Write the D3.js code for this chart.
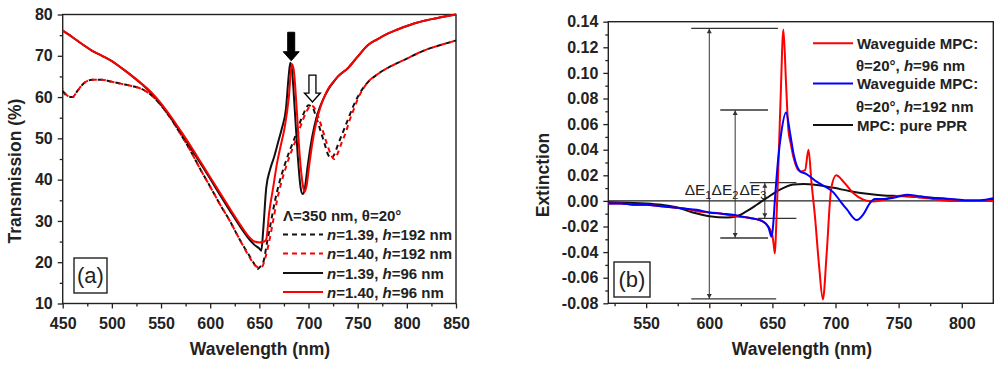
<!DOCTYPE html>
<html><head><meta charset="utf-8">
<script src="https://cdn.jsdelivr.net/npm/d3@7"></script>
<style>
body{margin:0;background:#fff;}
text{font-family:"Liberation Sans",Arial,sans-serif;}
</style></head>
<body><svg id="c" width="1000" height="367"></svg>
<script>
// ---------- Panel (a): transmission ----------
const aSolidBlackX = [450,460,470,480,490,500,510,520,530,540,550,560,570,580,590,600,610,620,630,640,645,650,652,654,657,661,665,669,673,677,680,681.5,683,686,689,692,694,696,699,702,706,710,715,720,725,730,740,750,760,770,780,790,800,810,820,830,840,850];
const aSolidBlackY = [76.1,74.5,72.8,71.2,70,68.7,67,65.2,63.2,61,58.2,55,51.5,47.8,44,40.2,36.3,32.5,28.8,25.5,24.2,23.3,22.8,28,38,42.5,45.5,49,52.5,57,65.5,68.3,67,57,46,38,36.5,37.5,43,48,53,56.5,59.5,61.8,63.5,65,67,69.8,72.5,74,75.3,76.3,77.2,78,78.6,79.1,79.6,80];
const aSolidRedX = [450,460,470,480,490,500,510,520,530,540,550,560,570,580,590,600,610,620,630,640,645,650,655,657,660,664,668,672,676,680,683,685,688,691,694,696,698,701,704,708,712,716,720,725,730,740,750,760,770,780,790,800,810,820,830,840,850];
const aSolidRedY = [76.1,74.5,72.8,71.2,70,68.7,67,65.2,63.3,61.2,58.5,55.3,51.8,48.2,44.4,40.6,36.8,33,29.3,26,25,24.8,25,25.5,32,38,44,48.5,53,60,68,66.5,57,46,39,37,38.5,44,49,54,57.5,60,62,63.6,65,67,69.8,72.5,74,75.3,76.3,77.2,78,78.6,79.1,79.6,80];
const aDashBlackX = [450,455,460,465,470,480,490,500,510,520,530,540,550,560,570,580,590,600,610,620,630,640,645,648,650,654,658,662,666,670,675,680,685,690,695,700,704,708,712,716,720,723,726,730,735,740,745,750,755,760,770,780,790,800,810,820,830,840,850];
const aDashBlackY = [61.5,60.2,60,61.5,63,64.2,64.2,63.7,63.2,62.7,62,60.5,58,54.8,51,47,42.5,38.3,34,30,25.5,21.5,19.5,18.3,18.7,20,25,30,35,39,43,46.5,49.5,53,56,58,57.5,55,52,49,46,45.2,46,48.5,51.5,54.5,57.5,60,62,63.5,65.5,67,68.2,69.3,70.5,71.5,72.3,73,73.7];
const aDashRedX = [450,455,460,465,470,480,490,500,510,520,530,540,550,560,570,580,590,600,610,620,630,640,645,650,653,656,660,664,668,672,677,682,687,692,697,703,707,711,715,719,723,726,729,733,738,742,746,750,755,760,770,780,790,800,810,820,830,840,850];
const aDashRedY = [62,60.3,60,61.5,63,64.2,64.2,63.7,63.2,62.7,62,60.5,58,54.8,51,47,42.5,38.3,34,30,25.5,21.2,19.4,18.7,19,21,25,30,35,39,43,46.5,49.5,53,56,58,57,54.5,51.5,48.5,46,45,46,48.5,51.5,54.5,57,59.5,61.8,63.5,65.5,67,68.2,69.3,70.5,71.5,72.3,73,73.7];
const aXTicks = [450,500,550,600,650,700,750,800,850];
const aYTicks = [10,20,30,40,50,60,70,80];
const aLegend = ["n=1.39, h=192 nm","n=1.40, h=192 nm","n=1.39, h=96 nm","n=1.40, h=96 nm"];
const aLegendTitle = "Λ=350 nm, θ=20°";
const aArrowFilled = {x:682.4, top:75.7, tip:68.8};
const aArrowHollow = {x:704, top:65.3, tip:58.8};

// ---------- Panel (b): extinction ----------
const bRedX = [520,530,540,550,560,570,580,590,600,610,620,630,640,645,648,650,651,652,653,654.5,656.5,658.7,660.8,662.7,664.5,666.7,672,675.9,678.6,681,683.7,687,690,693,696.5,700.5,706.3,714.2,722,730,738,745,751,757,764,777,790,804,815,825];
const bRedY = [-0.002,-0.002,-0.003,-0.003,-0.004,-0.005,-0.006,-0.008,-0.009,-0.010,-0.012,-0.013,-0.015,-0.018,-0.022,-0.027,-0.034,-0.041,-0.02,0.02,0.08,0.134,0.092,0.055,0.045,0.034,0.023,0.024,0.040,0.014,-0.012,-0.051,-0.077,-0.041,0.009,0.020,0.015,0.006,0.001,-0.0005,0.0008,0.003,0.004,0.004,0.003,0.0015,0.000,0.000,0.000,0.000];
const bBlueX = [520,530,540,550,560,570,580,590,600,610,620,630,640,645,647,649.4,650.5,652,654.5,657,660.8,664,666.7,672,677,685,693,698.5,703.6,708.9,716.8,722,727.4,731,738,751,756.6,767,777,791,804,814.6,825];
const bBlueY = [-0.002,-0.002,-0.003,-0.003,-0.004,-0.005,-0.006,-0.007,-0.009,-0.010,-0.011,-0.013,-0.015,-0.018,-0.021,-0.028,-0.02,0.001,0.032,0.053,0.069,0.053,0.037,0.023,0.021,0.015,0.0105,0.0065,0.0,-0.0065,-0.015,-0.0105,-0.0015,0.0015,0.0015,0.0036,0.0049,0.0036,0.0023,0.0015,0.0005,0.0005,0.002];
const bBlackX = [520,535,550,562,574,587,600,614,621.7,629.7,637.6,645.5,656,666.7,674.6,685,698.5,711.7,725,738,751,764,777,791,804,815,825];
const bBlackY = [-0.001,-0.0015,-0.002,-0.003,-0.005,-0.009,-0.012,-0.013,-0.012,-0.008,-0.003,0.0023,0.0088,0.0128,0.0133,0.0125,0.0102,0.0076,0.0056,0.0043,0.0038,0.003,0.0025,0.0013,0.0,0.0,0.0013];
const bXTicks = [550,600,650,700,750,800];
const bYTicks = [-0.08,-0.06,-0.04,-0.02,0,0.02,0.04,0.06,0.08,0.10,0.12,0.14];
const bLegend = [["Waveguide MPC:","θ=20°, ","h","=96 nm"],["Waveguide MPC:","θ=20°, ","h","=192 nm"],["MPC: pure PPR"]];
// ΔE brackets: x position, top, bottom, cap extents (data units)
const bDeltaX   = [600, 620.5, 644];
const bDeltaTop = [0.1348, 0.071, 0.0142];
const bDeltaBot = [-0.0766, -0.029, -0.0136];
const bCapTop   = [[585.7,654.4],[608.7,646.5],[632,669]];
const bCapBot   = [[585.7,653],[608.7,646.5],[638.6,669]];
const bDeltaLabelX = [580.5, 601.8, 624];
const bDeltaLabelY = 0.0046;

const svg = d3.select("#c");
const AX = "#222";

function frame(g, x, y, xMaj, xMin, yMaj, yMin, xFmt, yFmt){
  const [x0,x1] = x.range(), [y1,y0] = y.range();
  g.append("g").attr("transform",`translate(0,${y1})`)
    .call(d3.axisBottom(x).tickValues(xMin).tickSize(3).tickFormat(""));
  g.append("g").attr("transform",`translate(${x0},0)`)
    .call(d3.axisLeft(y).tickValues(yMin).tickSize(3).tickFormat(""));
  g.append("g").attr("transform",`translate(0,${y1})`)
    .call(d3.axisBottom(x).tickValues(xMaj).tickSize(5).tickPadding(9).tickFormat(xFmt));
  g.append("g").attr("transform",`translate(${x0},0)`)
    .call(d3.axisLeft(y).tickValues(yMaj).tickSize(5).tickPadding(5).tickFormat(yFmt));
  g.selectAll(".domain").remove();
  g.selectAll(".tick line").attr("stroke",AX).attr("stroke-width",1.3);
  g.selectAll(".tick text").attr("font-size",16).attr("font-weight","bold").attr("fill","#222")
    .attr("font-family","'Liberation Sans',Arial,sans-serif");
  g.append("rect").attr("x",x0).attr("y",y0).attr("width",x1-x0).attr("height",y1-y0)
    .attr("fill","none").attr("stroke",AX).attr("stroke-width",1.4);
}

function range(a,b,s){const r=[];for(let v=a;v<=b+1e-9;v+=s)r.push(+v.toFixed(4));return r;}

// ======== Panel A ========
const gA = svg.append("g");
const xA = d3.scaleLinear().domain([450,850]).range([62.7,456]);
const yA = d3.scaleLinear().domain([10,80]).range([303.5,14.5]);
frame(gA, xA, yA, aXTicks, range(475,825,50), aYTicks, range(15,75,10), d3.format("d"), d3.format("d"));

const lineA = (X,Y)=>d3.line().x((d,i)=>xA(X[i])).y((d,i)=>yA(Y[i])).curve(d3.curveMonotoneX)(X);
gA.append("path").attr("d",lineA(aDashBlackX,aDashBlackY)).attr("fill","none").attr("stroke","#111").attr("stroke-width",2).attr("stroke-dasharray","5,4");
gA.append("path").attr("d",lineA(aDashRedX,aDashRedY)).attr("fill","none").attr("stroke","#f00").attr("stroke-width",2).attr("stroke-dasharray","5,4").attr("stroke-dashoffset",4.5);
gA.append("path").attr("d",lineA(aSolidBlackX,aSolidBlackY)).attr("fill","none").attr("stroke","#111").attr("stroke-width",2);
gA.append("path").attr("d",lineA(aSolidRedX,aSolidRedY)).attr("fill","none").attr("stroke","#f00").attr("stroke-width",2);

function arrow(g, a, filled){
  const cx = xA(a.x), t = yA(a.top), p = yA(a.tip);
  const hh = 9, sw = 3.5, hw = 8;
  const pts = [[cx-sw,t],[cx+sw,t],[cx+sw,p-hh],[cx+hw,p-hh],[cx,p],[cx-hw,p-hh],[cx-sw,p-hh]];
  g.append("path").attr("d","M"+pts.map(q=>q.join(",")).join("L")+"Z")
    .attr("fill",filled?"#000":"#fff").attr("stroke","#000").attr("stroke-width",filled?1:1.3);
}
arrow(gA,aArrowFilled,true);
arrow(gA,aArrowHollow,false);

// legend A
const legA = gA.append("g");
legA.append("text").attr("x",283).attr("y",221).attr("font-size",15).attr("font-weight","bold").attr("fill","#222").text(aLegendTitle);
const legStyles = [["#111","5,4"],["#f00","5,4"],["#111",null],["#f00",null]];
const legYs = [234.5,253.5,273,292];
aLegend.forEach((s,i)=>{
  const ln = legA.append("line").attr("x1",283).attr("x2",323).attr("y1",legYs[i]).attr("y2",legYs[i])
    .attr("stroke",legStyles[i][0]).attr("stroke-width",2);
  if(legStyles[i][1]) ln.attr("stroke-dasharray",legStyles[i][1]);
  const t = legA.append("text").attr("x",327).attr("y",legYs[i]+5.5).attr("font-size",15).attr("font-weight","bold").attr("fill","#222");
  const m = s.match(/^n(=[^,]+, )h(.*)$/);
  t.append("tspan").attr("font-style","italic").text("n");
  t.append("tspan").text(m[1]);
  t.append("tspan").attr("font-style","italic").text("h");
  t.append("tspan").text(m[2]);
});
gA.append("rect").attr("x",74).attr("y",258).attr("width",33).attr("height",35).attr("fill","#fff").attr("stroke","#222").attr("stroke-width",1.4);
gA.append("text").attr("x",90.5).attr("y",283).attr("text-anchor","middle").attr("font-size",22).attr("fill","#222").text("(a)");
gA.append("text").attr("x",260).attr("y",355).attr("text-anchor","middle").attr("font-size",17.5).attr("font-weight","bold").attr("fill","#222").text("Wavelength (nm)");
gA.append("text").attr("transform","translate(21,171) rotate(-90)").attr("text-anchor","middle").attr("font-size",17.5).attr("font-weight","bold").attr("fill","#222").text("Transmission (%)");

// ======== Panel B ========
const gB = svg.append("g");
const xB = d3.scaleLinear().domain([520,825]).range([608.3,993.3]);
const yB = d3.scaleLinear().domain([-0.08,0.14]).range([303.3,21.7]);
frame(gB, xB, yB, bXTicks, range(525,775,50), bYTicks, range(-0.07,0.13,0.02), d3.format("d"), d3.format(".2f"));
gB.selectAll(".tick text").text(function(){return this.textContent.replace("−","-");});

gB.append("line").attr("x1",xB(520)).attr("x2",xB(825)).attr("y1",yB(0)).attr("y2",yB(0)).attr("stroke","#222").attr("stroke-width",1.2);

const ann = gB.append("g").attr("stroke","#333").attr("stroke-width",1);
bDeltaX.forEach((dx,i)=>{
  const x = xB(dx), t = yB(bDeltaTop[i]), b = yB(bDeltaBot[i]);
  ann.append("line").attr("x1",xB(bCapTop[i][0])).attr("x2",xB(bCapTop[i][1])).attr("y1",t).attr("y2",t).attr("stroke-width",1.3);
  ann.append("line").attr("x1",xB(bCapBot[i][0])).attr("x2",xB(bCapBot[i][1])).attr("y1",b).attr("y2",b).attr("stroke-width",1.3);
  ann.append("line").attr("x1",x).attr("x2",x).attr("y1",t).attr("y2",b);
  ann.append("path").attr("d",`M${x},${t+0.5}L${x-2.5},${t+5}L${x+2.5},${t+5}Z`).attr("fill","#333").attr("stroke","none");
  ann.append("path").attr("d",`M${x},${b-0.5}L${x-2.5},${b-5}L${x+2.5},${b-5}Z`).attr("fill","#333").attr("stroke","none");
});

const lineB = (X,Y)=>d3.line().x((d,i)=>xB(X[i])).y((d,i)=>yB(Y[i])).curve(d3.curveMonotoneX)(X);
gB.append("path").attr("d",lineB(bBlackX,bBlackY)).attr("fill","none").attr("stroke","#111").attr("stroke-width",2);
gB.append("path").attr("d",lineB(bRedX,bRedY)).attr("fill","none").attr("stroke","#f00").attr("stroke-width",2);
gB.append("path").attr("d",lineB(bBlueX,bBlueY)).attr("fill","none").attr("stroke","#00f").attr("stroke-width",2);

bDeltaLabelX.forEach((lx,i)=>{
  const t = gB.append("text").attr("x",xB(lx)).attr("y",yB(bDeltaLabelY)).attr("font-size",15.5).attr("fill","#222");
  t.append("tspan").text("ΔE");
  t.append("tspan").attr("font-size",11).attr("dy",4).text(String(i+1));
});

const legB = gB.append("g");
const bLegCol = ["#f00","#00f","#111"];
const bLineY = [43.3,83.5,125];
bLegend.forEach((L,i)=>{
  legB.append("line").attr("x1",813).attr("x2",853).attr("y1",bLineY[i]).attr("y2",bLineY[i]).attr("stroke",bLegCol[i]).attr("stroke-width",2);
  legB.append("text").attr("x",857).attr("y",bLineY[i]+5.5).attr("font-size",15).attr("font-weight","bold").attr("fill","#222").text(L[0]);
  if(L.length>1){
    const t = legB.append("text").attr("x",856).attr("y",bLineY[i]+28).attr("font-size",15).attr("font-weight","bold").attr("fill","#222");
    t.append("tspan").text(L[1]);
    t.append("tspan").attr("font-style","italic").text(L[2]);
    t.append("tspan").text(L[3]);
  }
});
gB.append("rect").attr("x",614).attr("y",262).attr("width",36).attr("height",35).attr("fill","#fff").attr("stroke","#222").attr("stroke-width",1.4);
gB.append("text").attr("x",632).attr("y",287).attr("text-anchor","middle").attr("font-size",22).attr("fill","#222").text("(b)");
gB.append("text").attr("x",802).attr("y",355).attr("text-anchor","middle").attr("font-size",17.5).attr("font-weight","bold").attr("fill","#222").text("Wavelength (nm)");
gB.append("text").attr("transform","translate(549,175) rotate(-90)").attr("text-anchor","middle").attr("font-size",17.5).attr("font-weight","bold").attr("fill","#222").text("Extinction");
</script></body></html>
